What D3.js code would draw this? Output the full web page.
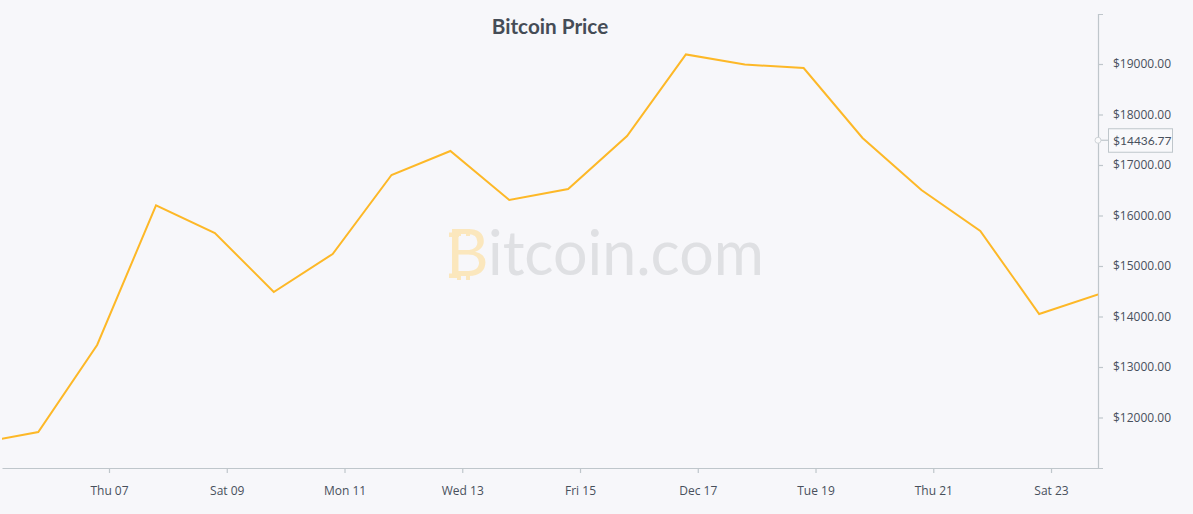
<!DOCTYPE html>
<html>
<head>
<meta charset="utf-8">
<script src="https://cdn.jsdelivr.net/npm/d3@7"></script>
<style>
	html, body { margin:0; padding:0; background:#f7f7fa; }
	svg { display:block; }
	text { font-family:Lato, sans-serif; }
	.axis path, .axis line { stroke:#bfc6cb; stroke-width:1.2; fill:none; }
	.axis text { fill:#48505c; font-family:"Open Sans", sans-serif; font-size:12px; }
</style>
</head>
<body>
<svg width="1193" height="514"></svg>
<script>
var dates = ["2017-12-04T19:10","2017-12-05T19:10","2017-12-06T19:10","2017-12-07T19:10","2017-12-08T19:10","2017-12-09T19:10",
	"2017-12-10T19:10","2017-12-11T19:10","2017-12-12T19:10","2017-12-13T19:10","2017-12-14T19:10","2017-12-15T19:10",
	"2017-12-16T19:10","2017-12-17T19:10","2017-12-18T19:10","2017-12-19T19:10","2017-12-20T19:10","2017-12-21T19:10",
	"2017-12-22T19:10","2017-12-23T19:10"];
var prices = [11495,11713,13436,16200,15653,14485,15238,16802,17277,16307,16525,17574,19190,18990,18921,17535,16505,15693,14050,14436.77];
var xTickDates = ["2017-12-07","2017-12-09","2017-12-11","2017-12-13","2017-12-15","2017-12-17","2017-12-19","2017-12-21","2017-12-23"];
var xTickLabels = ["Thu 07","Sat 09","Mon 11","Wed 13","Fri 15","Dec 17","Tue 19","Thu 21","Sat 23"];
var yTicks = [12000,13000,14000,15000,16000,17000,18000,19000];
var cursorLevel = 17490;   // where the hover marker sits on the axis
var cursorLabel = "$14436.77";

var parseLocal = function(s){ return new Date(s.length == 10 ? s + "T00:00" : s); };

var svg = d3.select("svg");

var x = d3.scaleTime()
	.domain([parseLocal("2017-12-05T04:23"), parseLocal("2017-12-23T19:09")])
	.range([2, 1098]);
var y = d3.scaleLinear()
	.domain([11000, 19990])
	.range([468, 14]);

// watermark
var mark = svg.append("g");
mark.append("text")
	.attr("x", 446).attr("y", 276)
	.attr("font-size", 66).attr("font-weight", 400)
	.attr("fill", "#fbe7bd")
	.text("B");
// coin stubs above and below the B
mark.selectAll("rect.stub").data([[457,229],[466,229],[457,273],[466,273]]).enter().append("rect")
	.attr("class", "stub")
	.attr("x", function(d){ return d[0]; }).attr("y", function(d){ return d[1]; })
	.attr("width", 4).attr("height", 7)
	.attr("fill", "#fbe7bd");
mark.selectAll("rect.serif").data([232.5,273.5]).enter().append("rect")
	.attr("class", "serif")
	.attr("x", 449).attr("y", function(d){ return d; })
	.attr("width", 10).attr("height", 4.5)
	.attr("fill", "#fbe7bd");
mark.append("text")
	.attr("x", 488).attr("y", 275)
	.attr("font-size", 61).attr("font-weight", 400)
	.attr("fill", "#dfe0e3")
	.text("itcoin.com");

// title
svg.append("text")
	.attr("x", 550).attr("y", 34)
	.attr("text-anchor", "middle")
	.attr("font-size", 20.7).attr("font-weight", 700)
	.attr("fill", "#454c56")
	.text("Bitcoin Price");

// axes
var xAxis = d3.axisBottom(x)
	.tickValues(xTickDates.map(parseLocal))
	.tickFormat(function(d, i){ return xTickLabels[i]; })
	.tickSizeInner(5).tickSizeOuter(0).tickPadding(13);
svg.append("g").attr("class", "axis x")
	.attr("transform", "translate(0,468)")
	.call(xAxis);

var yAxis = d3.axisRight(y)
	.tickValues(yTicks)
	.tickFormat(function(d){ return "$" + d3.format(".2f")(d); })
	.tickSizeInner(5).tickSizeOuter(5).tickPadding(10);
svg.append("g").attr("class", "axis y")
	.attr("transform", "translate(1098,0)")
	.call(yAxis);

// price line
var line = d3.line()
	.x(function(d){ return x(parseLocal(d.date)); })
	.y(function(d){ return y(d.price); });

svg.append("clipPath").attr("id", "plot")
	.append("rect").attr("x", 2).attr("y", 0).attr("width", 1096).attr("height", 468);

svg.append("path")
	.datum(dates.map(function(d, i){ return {date:d, price:prices[i]}; }))
	.attr("clip-path", "url(#plot)")
	.attr("fill", "none")
	.attr("stroke", "#fdb827")
	.attr("stroke-width", 2)
	.attr("d", line);

// hover marker + label on the axis
var cy = y(cursorLevel);
var cursor = svg.append("g");
cursor.append("line")
	.attr("x1", 1098).attr("x2", 1108)
	.attr("y1", cy).attr("y2", cy)
	.attr("stroke", "#bfc6cb").attr("stroke-width", 1.2);
cursor.append("circle")
	.attr("cx", 1098).attr("cy", cy).attr("r", 3)
	.attr("fill", "#fafafb").attr("stroke", "#cfd4d8");
cursor.append("rect")
	.attr("x", 1108.5).attr("y", cy - 11.5)
	.attr("width", 64).attr("height", 23.5)
	.attr("fill", "#f9f9fb").attr("stroke", "#bfc6cb");
cursor.append("text")
	.attr("x", 1113).attr("y", cy + 4.5)
	.attr("font-family", "'Open Sans', sans-serif")
	.attr("font-size", 12)
	.attr("fill", "#48505c")
	.text(cursorLabel);
</script>
</body>
</html>
